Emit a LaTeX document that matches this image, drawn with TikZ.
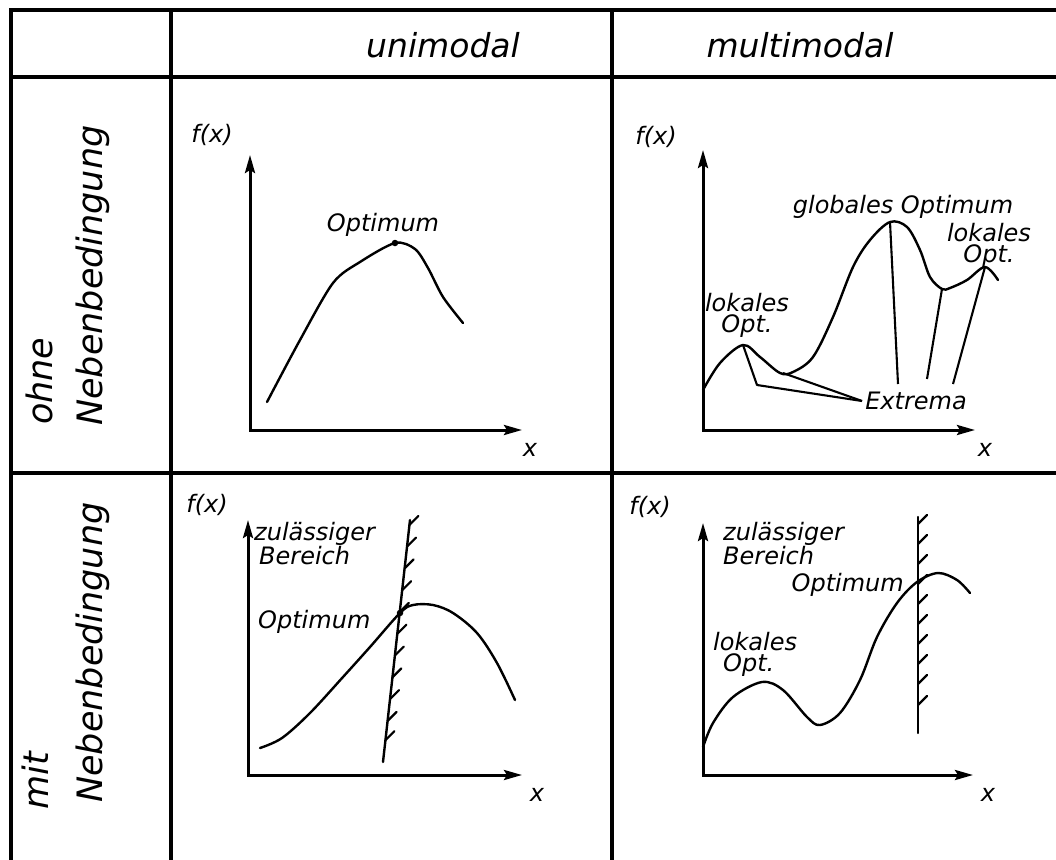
\documentclass[tikz,border=0pt]{standalone}
\usepackage{fontspec}
\setmainfont{DejaVu Sans}
\usetikzlibrary{arrows.meta,calc}
\begin{document}
\begin{tikzpicture}[x=1pt,y=-1pt,
  gridline/.style={line width=4.2pt, line cap=rect},
  axis/.style={line width=3pt, line join=miter, {Stealth[length=18pt,width=10pt,inset=3pt]}-{Stealth[length=18pt,width=10pt,inset=3pt]}},
  curve/.style={line width=2.4pt, line join=round, line cap=round},
  lead/.style={line width=2.1pt, line join=round},
  hatch/.style={line width=2.2pt, line cap=round},
  head/.style={font=\fontsize{33}{36}\selectfont\itshape, inner sep=0pt},
  rowlab/.style={font=\fontsize{35}{38}\selectfont\itshape, inner sep=0pt, rotate=90, anchor=base west},
  lab/.style={font=\fontsize{24}{21}\selectfont\itshape, inner sep=0pt},
  dot/.style={circle, fill, inner sep=0pt, minimum size=6.5pt}]
\useasboundingbox (0,0) rectangle (1056,859);

% ---- table grid ----
\draw[gridline] (1056,10) -- (11,10) -- (11,859);
\draw[gridline] (11,77) -- (1056,77);
\draw[gridline] (11,473) -- (1056,473);
\draw[gridline] (171,10) -- (171,859);
\draw[gridline] (612,10) -- (612,859);

% ---- headers ----
\node[head, anchor=base] (hUni) at (443,57) {unimodal};
\node[head, anchor=base] (hMulti) at (800,57) {multimodal};

% ---- row labels ----
\node[rowlab] (rOhne) at (52,425) {ohne};
\node[rowlab] (rNeb1) at (102,426) {Nebenbedingung};
\node[rowlab] (rMit) at (48,810) {mit};
\node[rowlab] (rNeb2) at (102,803) {Nebenbedingung};

% ================= top-left: unimodal, ohne =================
\coordinate (o1) at (250,430);
\coordinate (y1) at (250,155);
\coordinate (x1) at (522,430);
\draw[axis] (y1) -- (o1) -- (x1);
\node[lab] (fx1) at (212,135) {f(x)};
\node[lab] (xl1) at (530,450) {x};
\draw[curve] plot[smooth,tension=0.5] coordinates {(267,402) (300,340) (333,283) (360,262) (395,243) (415,249) (428,268) (443,297) (463,323)};
\node[dot] (p1) at (395,243) {};
\node[lab] (opt1) at (383,225) {Optimum};

% ================= top-right: multimodal, ohne =================
\coordinate (o2) at (703,430);
\coordinate (y2) at (703,150);
\coordinate (x2) at (975,430);
\draw[axis] (y2) -- (o2) -- (x2);
\node[lab] (fx2) at (656,137) {f(x)};
\node[lab] (xl2) at (985,450) {x};
\draw[curve] plot[smooth,tension=0.55] coordinates {(703,390) (720,363) (743,345) (760,357) (780,373) (793,372) (813,357) (833,317) (853,267) (870,240) (890,222) (907,227) (920,250) (930,277) (942,289) (950,288) (967,280) (985,267) (998,280)};
\coordinate (lo1) at (743,345);
\coordinate (mi1) at (783,373);
\coordinate (go) at (890,222);
\coordinate (mi2) at (942,289);
\coordinate (lo2) at (985,267);
\node[lab] (ext) at (916,401) {Extrema};
\coordinate (kink) at (757,385);
\coordinate (eA) at (898,384);
\coordinate (eB) at (927,379);
\coordinate (eC) at (953,384);
\draw[lead] (lo1) -- (kink) -- ([xshift=-3pt]ext.west);
\draw[lead] (mi1) -- ([xshift=-3pt]ext.west);
\draw[lead] (go) -- (eA);
\draw[lead] (mi2) -- (eB);
\draw[lead] (lo2) -- (eC);
\node[lab] (glob) at (903,207) {globales Optimum};
\node[lab, align=center] (lok2) at (989,245) {lokales\\Opt.};
\node[lab, align=center] (lok1) at (747,315) {lokales\\Opt.};

% ================= bottom-left: unimodal, mit =================
\coordinate (o3) at (248,775);
\coordinate (y3) at (248,520);
\coordinate (x3) at (522,775);
\draw[axis] (y3) -- (o3) -- (x3);
\node[lab] (fx3) at (207,505) {f(x)};
\node[lab] (xl3) at (537,795) {x};
\coordinate (cA) at (410,520);
\coordinate (cB) at (383,762);
\draw[curve] (cA) -- (cB);
\foreach \t in {0.02,0.11,0.2,0.29,0.38,0.47,0.56,0.65,0.74,0.83,0.91}
  \draw[hatch] ($(cA)!\t!(cB)$) -- ++(9,-9);
\draw[curve] plot[smooth,tension=0.55] coordinates {(260,748) (282,738) (310,713) (343,677) (370,647) (400,613) (413,605) (433,605) (453,613) (477,633) (497,663) (515,700)};
\node[dot] (p3) at (400,613) {};
\node[lab, align=left, anchor=north west] (zul3) at (254,522) {zulässiger\\\hspace*{5pt}Bereich};
\node[lab, anchor=west] (opt3) at (258,622) {Optimum};

% ================= bottom-right: multimodal, mit =================
\coordinate (o4) at (703,775);
\coordinate (y4) at (703,523);
\coordinate (x4) at (973,775);
\draw[axis] (y4) -- (o4) -- (x4);
\node[lab] (fx4) at (650,507) {f(x)};
\node[lab] (xl4) at (988,795) {x};
\coordinate (dA) at (918,517);
\coordinate (dB) at (918,733);
\draw[curve] (dA) -- (dB);
\foreach \yy in {524,544,564,584,604,624,644,664,684,705}
  \draw[hatch] (918,\yy) -- ++(9,-9);
\draw[curve] plot[smooth,tension=0.55] coordinates {(703,747) (713,723) (733,697) (762,682) (783,690) (807,717) (820,725) (840,713) (860,680) (877,637) (897,603) (917,582) (938,573) (957,580) (970,593)};
\node[lab, align=left, anchor=north west] (zul4) at (723,522) {zulässiger\\Bereich};
\node[lab, anchor=east] (opt4) at (904,585) {Optimum};
\node[lab, align=left, anchor=north west] (lok4) at (713,632) {lokales\\\hspace*{10pt}Opt.};
\end{tikzpicture}
\end{document}
